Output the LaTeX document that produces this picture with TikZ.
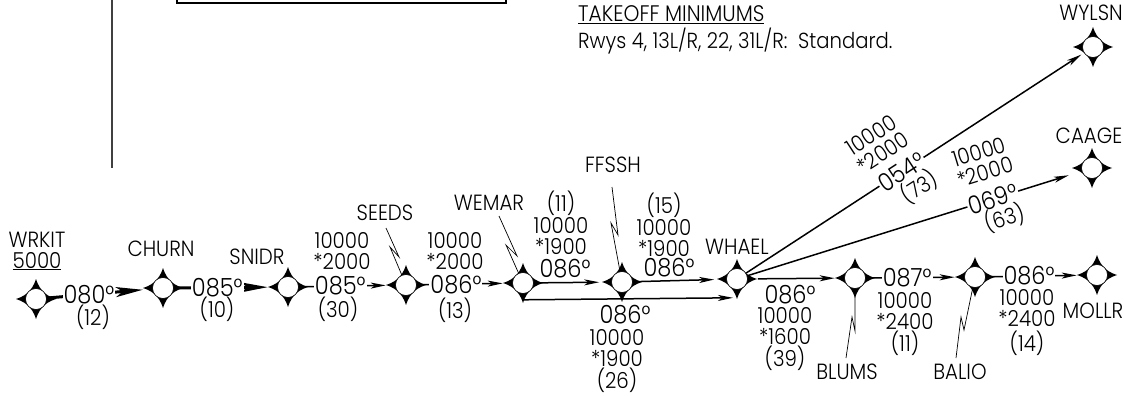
\documentclass[tikz,border=0pt]{standalone}
\usepackage{fontspec}
\setmainfont{Poppins}[UprightFont={* Light}, FakeStretch=0.9]
\usetikzlibrary{arrows.meta, positioning}

\begin{document}
\begin{tikzpicture}[x=1pt, y=-1pt]
	\tikzstyle{wpt} = [draw=black, line width=0.6pt, fill=white, circle, minimum size=21pt, inner sep=0pt]
	\tikzstyle{fixname} = [inner sep=0pt, font=\fontsize{22}{21}\selectfont]
	\tikzstyle{alt} = [inner sep=0pt, align=center, font=\fontsize{22}{21}\selectfont]
	\tikzstyle{deg} = [fill=white, inner xsep=1pt, inner ysep=0pt, font=\fontsize{25}{25}\selectfont]
	\tikzstyle{route} = [line width=1.5pt, shorten >=9.5pt, -{Stealth[length=15pt, width=6pt, inset=4pt]}]
	\tikzstyle{heavy} = [line width=3pt, -{Stealth[length=27pt, width=10pt, inset=7pt]}]
	\tikzstyle{leader} = [line width=0.7pt]
	\useasboundingbox (0, 0) rectangle (1124, 396);

	% frame and note
	\draw[line width=2pt, black!75] (112, 0) -- (112, 168);
	\draw[line width=1.5pt] (177, -10) rectangle (506, 3);
	\node[anchor=west, inner sep=0pt, font=\fontsize{22.5}{21}\selectfont] at (578, 15) (tkofhead) {\underline{TAKEOFF MINIMUMS}};
	\node[anchor=west, inner sep=0pt, font=\fontsize{21.8}{21}\selectfont] at (578, 41) (tkofrwys) {Rwys 4, 13L/R, 22, 31L/R:\ \ Standard.};

	% waypoints
	\foreach \nm/\x/\y in {wrkit/36/299, churn/163/288, snidr/288/287, seeds/406/285, wemar/523/283, ffssh/622/282, whael/737/279, blums/855/278, balio/975/277, mollr/1097/275, wylsn/1093/47, caage/1092/168} {
		\fill[shift={(\x, \y)}] (20, 0) .. controls (12.5, 2.5) and (9.5, 5) .. (7.5, 7.5)
			.. controls (5, 9.5) and (2.5, 12.5) .. (0, 20)
			.. controls (-2.5, 12.5) and (-5, 9.5) .. (-7.5, 7.5)
			.. controls (-9.5, 5) and (-12.5, 2.5) .. (-20, 0)
			.. controls (-12.5, -2.5) and (-9.5, -5) .. (-7.5, -7.5)
			.. controls (-5, -9.5) and (-2.5, -12.5) .. (0, -20)
			.. controls (2.5, -12.5) and (5, -9.5) .. (7.5, -7.5)
			.. controls (9.5, -5) and (12.5, -2.5) .. (20, 0) -- cycle;
		\node[wpt] at (\x, \y) (\nm) {};
	}

	% names
	\node[alt] at (37, 251) (wrkitname) {WRKIT\\\underline{5000}};
	\node[fixname] at (161, 249) (churnname) {CHURN};
	\node[fixname] at (257, 257) (snidrname) {SNIDR};
	\node[fixname] at (385, 213) (seedsname) {SEEDS};
	\node[fixname] at (489, 203) (wemarname) {WEMAR};
	\node[fixname] at (613, 165) (ffsshname) {FFSSH};
	\node[fixname] at (737, 247) (whaelname) {WHAEL};
	\node[fixname] at (847, 372) (blumsname) {BLUMS};
	\node[fixname] at (960, 372) (balioname) {BALIO};
	\node[fixname] at (1093, 311) (mollrname) {MOLLR};
	\node[fixname] at (1091, 13) (wylsnname) {WYLSN};
	\node[fixname] at (1089, 136) (caagename) {CAAGE};

	% legs
	\path[route]
	(wrkit) edge[heavy] node[deg, pos=.40] {080°} (churn)
	(churn) edge[heavy] node[deg, pos=.42] {085°} (snidr)
	(snidr) edge node[deg, pos=.43] {085°} (seeds)
	(seeds) edge node[deg, pos=.41] {086°} (wemar)
	(wemar) edge[shorten >=12pt] (ffssh)
	(ffssh) edge[shorten >=12pt] (whael)
	([yshift=-6pt]wemar.south) edge[shorten >=0pt] ([xshift=-4pt, yshift=-8pt]whael.south)
	(whael) edge[shorten <=10pt] (blums)
	(blums) edge node[deg, pos=.42] {087°} (balio)
	(balio) edge node[deg, pos=.43] {086°} (mollr)
	(whael) edge[shorten >=3pt] node[deg, sloped, pos=.46] {054°} (wylsn)
	(whael) edge[shorten >=13.5pt] node[deg, sloped, pos=.734] {069°} (caage);

	% leaders
	\draw[leader] (seedsname) ++(1, 15) -- (399, 257) -- (390, 247) -- (seeds);
	\draw[leader] (wemarname) ++(10, 13) -- (517, 256) -- (506, 245) -- (wemar);
	\draw[leader] (ffsshname) ++(-1, 22) -- (618, 235) -- (611, 223) -- (ffssh);
	\draw[leader] (blumsname) ++(-1, -14) -- (852, 317) -- (855, 331) -- (blums);
	\draw[leader] (balioname) ++(-4, -14) -- (961, 317) -- (964, 330) -- (balio);

	% distances and altitudes
	\node[alt] at (93, 317) (altwrkit) {(12)};
	\node[alt] at (217, 309) (altchurn) {(10)};
	\node[alt] at (342, 251) (altsnidr) {10000\\*2000};
	\node[alt] at (338, 309) (distsnidr) {(30)};
	\node[alt] at (455, 251) (altseeds) {10000\\*2000};
	\node[alt] at (455, 310) (distseeds) {(13)};
	\node[alt] at (561, 223) (altwemar) {(11)\\[1pt]10000\\*1900};
	\node[deg, fill=none] at (565, 269) (crswemar) {086°};
	\node[alt] at (664, 225) (altffssh) {(15)\\[1pt]10000\\*1900};
	\node[deg, fill=none] at (669, 268) (crsffssh) {086°};
	\node[deg, fill=none] at (625, 315) (crslow) {086°};
	\node[alt] at (617, 361) (altlow) {10000\\*1900\\[1pt](26)};
	\node[deg, fill=none] at (790, 295) (crswhael) {086°};
	\node[alt] at (785, 339) (altwhael) {10000\\*1600\\[1pt](39)};
	\node[alt] at (905, 324) (altblums) {10000\\*2400\\[1pt](11)};
	\node[alt] at (1027, 323) (altbalio) {10000\\*2400\\[4pt](14)};

	% fan to the north east
	\node[alt, rotate=33] at (877, 144) (altwylsn) {10000\\*2000};
	\node[alt, rotate=33] at (919, 187) (distwylsn) {(73)};
	\node[alt, rotate=17] at (982, 162) (altcaage) {10000\\*2000};
	\node[alt, rotate=17] at (1005, 218) (distcaage) {(63)};
\end{tikzpicture}
\end{document}
